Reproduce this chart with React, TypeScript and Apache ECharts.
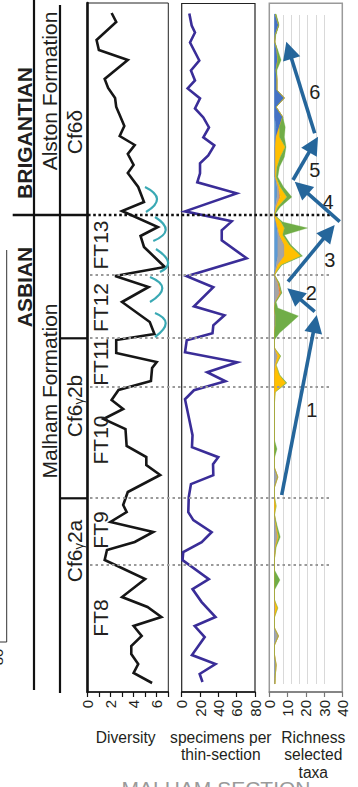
import { useEffect, useRef } from "react";
import * as echarts from "echarts";

// ---- Diversity (number of taxa) against stratigraphic height (m) ----
const diversityHeight = [
  67.9, 67.0, 65.2, 64.2, 63.2, 61.3, 60.4, 59.4, 58.5, 57.7, 56.6, 55.6, 54.7, 53.8, 52.7, 51.9,
  50.5, 49.0, 48.1, 46.5, 45.6, 44.5, 42.5, 41.6, 40.5, 39.0, 37.0, 35.8, 35.2, 33.9, 33.0, 32.4,
  31.1, 30.2, 29.2, 28.3, 27.3, 26.3, 24.6, 23.5, 22.7, 21.7, 20.0, 18.7, 18.0, 17.0, 16.0, 15.0,
  14.2, 13.2, 11.3, 9.5, 8.5, 7.5, 6.6, 5.6, 4.6, 3.8, 2.8, 1.9, 0.9,
];
const diversity = [
  2.1, 2.5, 0.8, 1.0, 3.5, 1.5, 1.8, 2.4, 2.5, 2.8, 3.2, 2.8, 4.1, 3.5, 4.0, 3.5,
  4.4, 4.9, 3.0, 6.1, 4.6, 4.9, 6.7, 2.4, 5.3, 3.0, 5.4, 5.8, 2.5, 2.5, 6.0, 5.6,
  5.5, 2.7, 2.1, 3.1, 1.4, 3.3, 3.4, 5.1, 5.1, 6.3, 3.5, 3.1, 3.4, 2.0, 5.7, 4.1,
  1.7, 1.5, 5.0, 3.0, 5.2, 6.4, 4.0, 4.7, 3.8, 3.8, 4.4, 4.0, 5.6,
];

// ---- Specimens per thin-section ----
const specimenHeight = [
  67.9, 66.7, 66.0, 65.0, 63.2, 62.2, 61.2, 60.4, 59.4, 58.4, 57.5, 56.5, 55.5, 54.7, 53.7, 52.9,
  51.9, 51.0, 49.9, 48.1, 47.1, 46.2, 45.2, 43.4, 41.6, 40.5, 38.6, 37.7, 36.7, 35.9, 35.2, 34.0,
  33.0, 32.0, 31.1, 30.2, 29.3, 26.9, 25.7, 24.5, 23.5, 22.8, 21.7, 20.8, 19.5, 18.0, 17.2, 16.0,
  15.0, 14.0, 13.2, 11.3, 10.3, 9.0, 7.5, 6.6, 5.5, 3.7, 2.8, 1.8, 1.0,
];
const specimens = [
  8.3, 10.9, 14.5, 9.1, 19.2, 10.1, 14.5, 6.5, 20.0, 14.5, 23.6, 29.8, 23.6, 35.6, 29.0, 20.0,
  20.0, 17.0, 60.0, 3.6, 54.6, 43.7, 43.7, 70.9, 5.5, 34.5, 13.4, 46.7, 34.5, 33.6, 5.5, 3.6,
  60.6, 27.8, 47.7, 13.4, 3.6, 9.1, 11.8, 11.2, 39.9, 34.2, 34.5, 10.1, 7.7, 7.2, 12.7, 32.7,
  21.8, 1.7, 0.9, 29.6, 11.8, 21.8, 36.9, 14.2, 25.1, 11.2, 36.9, 19.6, 22.7,
];

// ---- Richness of selected taxa (stacked by group) ----
const richnessHeight = [
  67.8, 66.7, 65.7, 65.0, 64.2, 63.2, 62.2, 61.2, 60.2, 59.4, 58.5, 57.5, 56.5, 55.5, 54.5, 53.5,
  52.5, 51.5, 50.5, 49.5, 48.5, 47.7, 47.0, 46.4, 45.7, 44.7, 43.6, 42.7, 41.7, 40.9, 39.9, 39.0,
  38.4, 37.6, 36.7, 35.9, 35.2, 34.4, 33.6, 32.7, 31.7, 30.9, 30.0, 29.0, 25.2, 24.3, 23.4, 22.4,
  21.5, 20.5, 19.5, 18.6, 17.7, 16.5, 15.5, 14.5, 13.4, 12.2, 11.2, 10.2, 9.2, 8.4, 7.5, 6.4,
  5.6, 4.7, 3.7, 2.7, 1.7, 0.8,
];
const richLightBlue = [
  0, 0, 0, 0, 0, 0, 0, 0, 0, 0, 0, 0, 1, 0.5, 0.5, 0.5,
  0.5, 0.5, 1.5, 1.5, 0.5, 0, 1, 1.5, 2, 2, 2, 1, 0, 0, 0, 0,
  0, 0, 0, 0, 0, 0, 0, 0, 0, 0, 0, 0, 0, 0, 0, 0,
  0, 0, 0, 0, 0, 0, 0, 0, 0, 0, 0, 0, 0, 0, 0, 0,
  0, 0, 0, 0, 0, 0,
];
const richBlue = [
  0.5, 2.5, 0.5, 0.2, 1.5, 2, 1, 1.5, 1.5, 6, 1, 5, 2, 0.5, 0, 0,
  0, 0, 0, 0, 0, 0, 0, 0, 0, 0, 0, 0, 0, 0, 0, 0,
  0, 0, 0, 0, 0, 0, 0, 0, 0, 0, 0, 0, 0, 0, 0, 0,
  0, 0, 0, 0, 0, 0, 0, 0, 0, 0, 0, 0, 0, 0, 0, 0,
  0, 0, 0, 0, 0, 0,
];
const richGrey = [
  0, 0, 0, 0, 0, 0, 0, 0, 0, 0, 0, 0, 0, 0, 0, 0,
  0, 0, 1, 1.5, 0.5, 0, 0, 0.5, 1, 4, 4, 1, 0, 2, 3, 0.5,
  0, 0.5, 0.5, 0, 0, 0, 2, 0.5, 0, 0, 0, 0, 0, 0, 0, 0,
  2, 0, 0, 0, 0, 1, 2, 0.5, 0, 0, 0, 0, 0, 0.5, 0, 0,
  2.4, 0, 0, 1, 0.5, 0.3,
];
const richOrange = [
  0, 0, 0, 0, 0, 0, 0, 0, 0, 0, 0, 0, 0, 0, 0, 0,
  0, 0, 0, 0.5, 0, 0, 0, 0, 0, 0, 0, 0, 0, 0.5, 1, 0,
  0, 0, 0, 0, 0, 0, 0, 0, 0, 0, 0, 0, 0, 0, 0, 0,
  0, 0, 0, 0, 0, 0, 0, 0, 0, 0, 0, 0, 0, 0, 0, 0,
  0, 0, 0, 0, 0, 0,
];
const richYellow = [
  0, 0, 0, 0, 0, 0, 0, 0, 0, 0, 0, 0, 0, 2, 6, 3,
  1, 0.5, 1, 4, 1, 0, 3, 4, 2, 3, 10, 2, 0, 0, 0, 0,
  0, 0, 0, 0, 0, 0, 1.5, 0.5, 3, 7, 0.5, 0, 0, 0, 0, 0,
  0, 0, 0, 1, 0, 0.3, 0.5, 0.3, 0, 0, 0, 0, 0, 1.5, 0, 0,
  0, 0, 0, 0, 0, 0,
];
const richGreen = [
  0.5, 0.3, 0.3, 0, 0.5, 2, 0.5, 0, 0, 0, 0, 0, 3.5, 3, 0.5, 2.5,
  1.5, 1, 2, 3, 1.5, 0, 1, 14, 1, 1, 1, 0.5, 0, 0.5, 0.5, 0.5,
  2, 14, 8, 3, 0, 0, 0.3, 0, 0.2, 0.5, 0, 0, 0, 1.5, 0, 0,
  0, 0, 0, 0, 0, 0.5, 1, 0.2, 0, 0, 3.3, 0, 0, 0, 0, 0,
  0, 0, 0, 0, 0, 0,
];
const richnessLayers = [
  { values: richLightBlue, color: "#5B9BD5" },
  { values: richBlue, color: "#4472C4" },
  { values: richGrey, color: "#A5A5A5" },
  { values: richOrange, color: "#ED7D31" },
  { values: richYellow, color: "#FFC000" },
  { values: richGreen, color: "#70AD47" },
];
const richnessGuides = [0, 5, 10, 15, 20, 25, 30];
const guideTop = 67.7;
const guideBottom = 0.8;

// ---- Axis tick labels ----
const diversityLabels = [0, 2, 4, 6];
const specimenLabels = [0, 20, 40, 60, 80];
const richnessLabels = [0, 10, 20, 30, 40];

// Biozone boundaries (m) and the stage boundary
const stageBoundary = 47.7;
const zoneBoundaries = [41.7, 35.4, 30.5, 19.4, 12.7];

const HEIGHT_MAX = 68.9;
const FONT = "'Liberation Sans', Arial, Helvetica, sans-serif";
const INK = "#231f20";
const ARROW = "#25669b";
const TEAL = "#3aa9b4";

// trend arrows in the richness panel: [x1, y1, x2 (tip), y2 (tip)] in px
const trendArrows = [
  [281.7, 495, 316.7, 315],
  [314.7, 311.7, 287.3, 288.3],
  [288, 281.7, 334.7, 225],
  [339.7, 221.7, 294.7, 181.7],
  [293, 180, 318, 136.7],
  [314.7, 133.3, 286.3, 41.7],
];
const trendLabels = [
  ["1", 311.7, 410],
  ["2", 311.3, 293.3],
  ["3", 329.7, 260],
  ["4", 328, 201.7],
  ["5", 314.7, 170],
  ["6", 314.7, 91.7],
];
// teal bracket marks beside the diversity curve: start, bulge, end
const brackets = [
  [145, 187, 157, 199, 146, 212],
  [155, 217, 165.7, 230, 153.3, 241],
  [156, 249, 168, 262, 160, 272],
  [150, 277, 162.3, 288.3, 150, 302],
  [155, 313, 165.7, 323.3, 155, 337],
];

function arrowEls(x1: number, y1: number, x2: number, y2: number) {
  const dx = x2 - x1;
  const dy = y2 - y1;
  const len = Math.hypot(dx, dy);
  const ux = dx / len;
  const uy = dy / len;
  const hl = 18;
  const hw = 9;
  const bx = x2 - ux * hl;
  const by = y2 - uy * hl;
  const px = -uy;
  const py = ux;
  return [
    {
      type: "line",
      z: 100,
      silent: true,
      shape: { x1, y1, x2: bx + ux * 2, y2: by + uy * 2 },
      style: { stroke: ARROW, lineWidth: 3.6 },
    },
    {
      type: "polygon",
      z: 100,
      silent: true,
      shape: {
        points: [
          [x2, y2],
          [bx + px * hw, by + py * hw],
          [bx - px * hw, by - py * hw],
        ],
      },
      style: { fill: ARROW },
    },
  ];
}

const seg = (x1: number, y1: number, x2: number, y2: number, stroke: string, lineWidth: number, lineDash?: number[]) => ({
  type: "line",
  z: 50,
  silent: true,
  shape: { x1, y1, x2, y2 },
  style: { stroke, lineWidth, lineDash },
});

const vText = (text: string, x: number, y: number, font: string, fill = INK, rich?: any) => ({
  type: "text",
  z: 60,
  silent: true,
  x,
  y,
  rotation: Math.PI / 2,
  style: { text, font, fill, align: "center", verticalAlign: "middle", rich },
});

const hText = (text: string, x: number, y: number, font: string, fill = INK) => ({
  type: "text",
  z: 60,
  silent: true,
  x,
  y,
  style: { text, font, fill, align: "center", verticalAlign: "middle" },
});

export default function App() {
  const ref = useRef<HTMLDivElement>(null);

  useEffect(() => {
    if (!ref.current) return;
    const chart = echarts.init(ref.current, undefined, { renderer: "svg" });

    const pxY = (h: number) => 692 - h * 10;

    const axisCommon = {
      axisLine: { show: true, lineStyle: { color: "#111", width: 1.5 } },
      axisTick: { show: true, length: 5, lineStyle: { color: "#111", width: 1.2 } },
      splitLine: { show: false },
    };
    const labelCommon = { rotate: 90, fontSize: 15, color: INK, fontFamily: FONT, margin: 8 };

    const yCommon = {
      type: "value",
      min: 0,
      max: HEIGHT_MAX,
      axisLabel: { show: false },
      axisTick: { show: false },
      splitLine: { show: false },
    };

    const rich6 = {
      a: { font: `21px ${FONT}`, fill: INK, color: INK },
      g: { font: `13px ${FONT}`, fill: INK, color: INK, verticalAlign: "bottom" },
    };

    const graphics: any[] = [
      // stratigraphic column rules
      seg(6.7, 250, 6.7, 642, "#333", 1),
      seg(0, 642, 6.7, 642, "#333", 1),
      seg(34, 0, 34, 690, "#111", 2.2),
      seg(60, 5, 60, 693, "#111", 2.2),
      seg(12.7, 215, 88, 215, "#111", 2.4),
      seg(60, 338.3, 88, 338.3, "#111", 2.2),
      seg(60, 498.3, 88, 498.3, "#111", 2.2),
      // stage and biozone boundaries across the panels
      seg(88, pxY(stageBoundary), 332, pxY(stageBoundary), "#111", 2.6, [2.6, 2.6]),
      ...zoneBoundaries.map((h) => seg(90, pxY(h), 329, pxY(h), "#9a9a9a", 2.2, [2.5, 3])),
      // labels of the column
      vText("BRIGANTIAN", 24, 133, `bold 21px ${FONT}`),
      vText("ASBIAN", 24, 287, `bold 21px ${FONT}`),
      vText("Alston Formation", 49, 91, `21px ${FONT}`),
      vText("Malham Formation", 49, 391, `21px ${FONT}`),
      vText("Cf6δ", 74.5, 132, `21px ${FONT}`),
      vText("{a|Cf6}{g|γ}{a|2b}", 74.5, 406, `21px ${FONT}`, INK, rich6),
      vText("{a|Cf6}{g|γ}{a|2a}", 74.5, 551, `21px ${FONT}`, INK, rich6),
      vText("80", -3, 657, `15px ${FONT}`),
      // foraminiferal zones
      vText("FT13", 100.5, 245, `21px ${FONT}`),
      vText("FT12", 100.5, 307.5, `21px ${FONT}`),
      vText("FT11", 100.5, 362, `21px ${FONT}`),
      vText("FT10", 100.5, 440, `21px ${FONT}`),
      vText("FT9", 100.5, 530, `21px ${FONT}`),
      vText("FT8", 100.5, 618, `21px ${FONT}`),
      // cycle brackets
      ...brackets.map(([x1, y1, mx, my, x2, y2]) => ({
        type: "bezierCurve",
        z: 55,
        silent: true,
        shape: { x1, y1, x2, y2, cpx1: 2 * mx - (x1 + x2) / 2, cpy1: 2 * my - (y1 + y2) / 2 },
        style: { stroke: TEAL, lineWidth: 2.2, fill: null },
      })),
      // trend arrows
      ...trendArrows.flatMap(([x1, y1, x2, y2]) => arrowEls(x1, y1, x2, y2)),
      ...trendLabels.map(([t, x, y]) => hText(t as string, x as number, y as number, `20px ${FONT}`)),
      // axis titles
      hText("Diversity", 125.7, 737, `15.6px ${FONT}`),
      hText("specimens per", 220.8, 737, `15.6px ${FONT}`),
      hText("thin-section", 220.8, 754.5, `15.6px ${FONT}`),
      hText("Richness", 313.3, 737, `15.6px ${FONT}`),
      hText("selected", 313.3, 754.5, `15.6px ${FONT}`),
      hText("taxa", 313.3, 772, `15.6px ${FONT}`),
      hText("MALHAM SECTION", 216, 788.5, `21px ${FONT}`, "#9a9a9a"),
    ];

    chart.setOption({
      animation: false,
      grid: [
        { left: 87.3, top: 3, width: 81, height: 689, show: true, borderColor: "#222", borderWidth: 1, outerBoundsMode: "none" },
        { left: 181.7, top: 3.5, width: 73.3, height: 688.5, show: true, borderColor: "#222", borderWidth: 1.2, outerBoundsMode: "none" },
        { left: 274.5, top: 3, width: 66, height: 689, show: false, outerBoundsMode: "none" },
        { left: 269.3, top: 3.3, width: 73, height: 688.7, show: true, borderColor: "#9a9a9a", borderWidth: 1.5, outerBoundsMode: "none" },
      ],
      xAxis: [
        {
          gridIndex: 0, type: "value", min: 0, max: 7, interval: 1, ...axisCommon,
          axisLabel: { ...labelCommon, formatter: (v: number) => (diversityLabels.includes(v) ? String(v) : "") },
        },
        {
          gridIndex: 1, type: "value", min: 0, max: 80, interval: 20, ...axisCommon,
          axisLabel: { ...labelCommon, formatter: (v: number) => (specimenLabels.includes(v) ? String(v) : "") },
        },
        { gridIndex: 2, type: "value", min: 0, max: 40, show: false },
        {
          gridIndex: 3, type: "value", min: 0, max: 40, interval: 10, ...axisCommon,
          axisLine: { show: true, lineStyle: { color: "#777", width: 1.5 } },
          axisTick: { show: true, length: 5, lineStyle: { color: "#777", width: 1.2 } },
          axisLabel: { ...labelCommon, formatter: (v: number) => (richnessLabels.includes(v) ? String(v) : "") },
        },
      ],
      yAxis: [
        { gridIndex: 0, ...yCommon, axisLine: { show: true, lineStyle: { color: "#111", width: 2.6 } } },
        { gridIndex: 1, ...yCommon, axisLine: { show: false } },
        { gridIndex: 2, ...yCommon, show: false },
        { gridIndex: 3, ...yCommon, axisLine: { show: false } },
      ],
      series: [
        {
          type: "line",
          name: "Diversity",
          xAxisIndex: 0,
          yAxisIndex: 0,
          data: diversity.map((v, i) => [v, diversityHeight[i]]),
          showSymbol: false,
          symbol: "none",
          lineStyle: { color: "#161616", width: 2.6, join: "miter" },
          z: 5,
        },
        {
          type: "line",
          name: "Specimens per thin-section",
          xAxisIndex: 1,
          yAxisIndex: 1,
          data: specimens.map((v, i) => [v, specimenHeight[i]]),
          showSymbol: false,
          symbol: "none",
          lineStyle: { color: "#3a2d98", width: 2.6, join: "miter" },
          z: 5,
        },
        {
          type: "lines",
          coordinateSystem: "cartesian2d",
          xAxisIndex: 2,
          yAxisIndex: 2,
          silent: true,
          z: 1,
          lineStyle: { color: "#d9d9d9", width: 1, opacity: 1 },
          data: richnessGuides.map((g) => ({ coords: [[g, guideTop], [g, guideBottom]] })),
        },
        {
          type: "custom",
          name: "Richness selected taxa",
          xAxisIndex: 2,
          yAxisIndex: 2,
          z: 3,
          data: richnessLayers.map(() => [0, 0]),
          renderItem: (params: any, api: any) => {
            const li = params.dataIndex;
            const lower = richnessHeight.map((_, r) =>
              richnessLayers.slice(0, li).reduce((s, l) => s + l.values[r], 0)
            );
            const upper = lower.map((v, r) => v + richnessLayers[li].values[r]);
            const pts: number[][] = [];
            richnessHeight.forEach((h, r) => pts.push(api.coord([upper[r], h])));
            for (let r = richnessHeight.length - 1; r >= 0; r--) pts.push(api.coord([lower[r], richnessHeight[r]]));
            const c = richnessLayers[li].color;
            return {
              type: "polygon",
              shape: { points: pts },
              style: { fill: c, stroke: c, lineWidth: 0.3 },
            };
          },
        },
      ],
      graphic: { elements: graphics },
    });

    return () => chart.dispose();
  }, []);

  return (
    <div
      ref={ref}
      style={{ position: "fixed", left: 0, top: 0, width: 358, height: 787, background: "#fff" }}
    />
  );
}
